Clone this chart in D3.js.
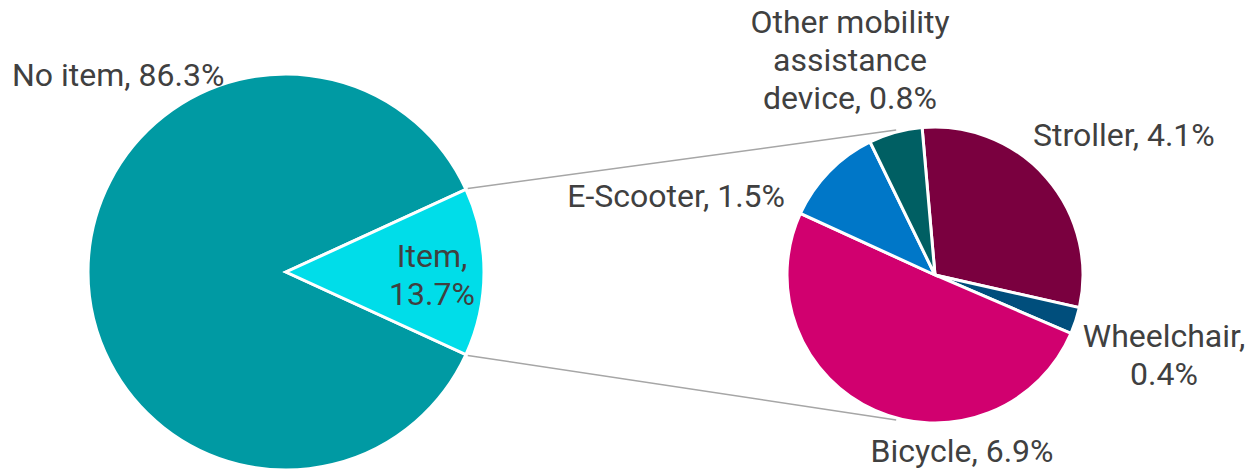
<!DOCTYPE html>
<meta charset="utf-8">
<style>
body { margin: 0; background: #fff; }
text { font-family: Roboto, sans-serif; font-size: 32px; fill: #404040; }
.connector { stroke: #a6a6a6; stroke-width: 1.5px; fill: none; }
</style>
<body>
<script src="https://d3js.org/d3.v7.min.js"></script>
<script>

// primary pie
var mainCats = ["No item", "Item"];
var mainVals = [86.3, 13.7];
var mainColors = ["#009aa3", "#00dde9"];

// secondary pie (breakdown of "Item")
var subCats = ["Stroller", "Wheelchair", "Bicycle", "E-Scooter", "Other mobility assistance device"];
var subVals = [4.1, 0.4, 6.9, 1.5, 0.8];
var subColors = ["#7a003f", "#004e7c", "#d1006f", "#0077c8", "#005f63"];

var width = 1250, height = 470;
var svg = d3.select("body").append("svg")
    .attr("width", width)
    .attr("height", height);

var deg = Math.PI / 180;

// main pie geometry
var mc = {x: 286, y: 272, r: 198};
var itemAngle = mainVals[1] / d3.sum(mainVals) * 2 * Math.PI;

var mainPie = d3.pie().sort(null)
    .startAngle(Math.PI / 2 + itemAngle / 2)
    .endAngle(Math.PI / 2 + itemAngle / 2 + 2 * Math.PI);

var mainArc = d3.arc().innerRadius(0).outerRadius(mc.r);

var gMain = svg.append("g").attr("transform", "translate(" + mc.x + "," + mc.y + ")");
gMain.selectAll("path")
    .data(mainPie(mainVals))
  .enter().append("path")
    .attr("d", mainArc)
    .attr("fill", function(d, i) { return mainColors[i]; })
    .attr("stroke", "#fff")
    .attr("stroke-width", 3);

// secondary pie geometry
var sc = {x: 935, y: 275, r: 148};
var subPie = d3.pie().sort(null)
    .startAngle(-5 * deg)
    .endAngle(-5 * deg + 2 * Math.PI);
var subArc = d3.arc().innerRadius(0).outerRadius(sc.r);

var gSub = svg.append("g").attr("transform", "translate(" + sc.x + "," + sc.y + ")");
gSub.selectAll("path")
    .data(subPie(subVals))
  .enter().append("path")
    .attr("d", subArc)
    .attr("fill", function(d, i) { return subColors[i]; })
    .attr("stroke", "#fff")
    .attr("stroke-width", 3);

// connector lines
function pt(c, r, a) { return [c.x + r * Math.sin(a), c.y - r * Math.cos(a)]; }
var topA = Math.PI / 2 - itemAngle / 2, botA = Math.PI / 2 + itemAngle / 2;
var conns = [
  [pt(mc, mc.r + 2, topA), pt(sc, sc.r + 2, -15 * deg)],
  [pt(mc, mc.r + 2, botA), pt(sc, sc.r + 2, 195 * deg)]
];
svg.selectAll(".connector")
    .data(conns)
  .enter().append("line")
    .attr("class", "connector")
    .attr("x1", function(d) { return d[0][0]; })
    .attr("y1", function(d) { return d[0][1]; })
    .attr("x2", function(d) { return d[1][0]; })
    .attr("y2", function(d) { return d[1][1]; });

// labels
var labels = [
  {lines: [mainCats[0] + ", " + mainVals[0] + "%"], x: 12, y: 86, anchor: "start"},
  {lines: [mainCats[1] + ",", mainVals[1] + "%"], x: 432, y: 267, anchor: "middle"},
  {lines: ["Other mobility", "assistance", "device, " + subVals[4] + "%"], x: 850, y: 33, anchor: "middle"},
  {lines: [subCats[0] + ", " + subVals[0] + "%"], x: 1033, y: 146, anchor: "start"},
  {lines: [subCats[3] + ", " + subVals[3] + "%"], x: 785, y: 207, anchor: "end"},
  {lines: [subCats[1] + ",", subVals[1] + "%"], x: 1164, y: 347, anchor: "middle"},
  {lines: [subCats[2] + ", " + subVals[2] + "%"], x: 962, y: 462, anchor: "middle"}
];

labels.forEach(function(l) {
  var t = svg.append("text")
      .attr("x", l.x)
      .attr("y", l.y)
      .attr("text-anchor", l.anchor);
  l.lines.forEach(function(s, i) {
    t.append("tspan")
        .attr("x", l.x)
        .attr("dy", i === 0 ? 0 : 38)
        .text(s);
  });
});

</script>
</body>
